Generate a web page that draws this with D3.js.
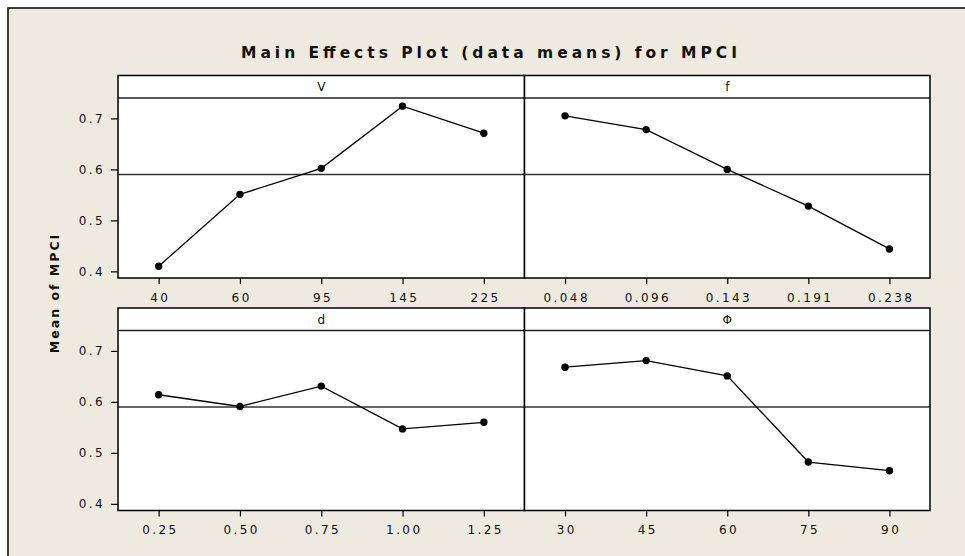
<!DOCTYPE html>
<html>
<head>
<meta charset="utf-8">
<script src="https://cdn.jsdelivr.net/npm/d3@7"></script>
<style>
  body { margin: 0; background: #fff; }
  svg text { font-family: "DejaVu Sans", Verdana, sans-serif; fill: #111; }
</style>
</head>
<body>
<div id="chart"></div>
<script>
var width = 965, height = 556;

// factor levels (tick labels) and mean of MPCI at each level
var levelsV = ["40", "60", "95", "145", "225"];
var meansV = [0.410, 0.551, 0.602, 0.724, 0.671];
var levelsF = ["0.048", "0.096", "0.143", "0.191", "0.238"];
var meansF = [0.705, 0.678, 0.600, 0.528, 0.444];
var levelsD = ["0.25", "0.50", "0.75", "1.00", "1.25"];
var meansD = [0.614, 0.591, 0.631, 0.547, 0.560];
var levelsPhi = ["30", "45", "60", "75", "90"];
var meansPhi = [0.668, 0.681, 0.651, 0.482, 0.465];

var grandMean = 0.590;
var yTicks = [0.4, 0.5, 0.6, 0.7];
var factorNames = ["V", "f", "d", "\u03A6"];

var panels = [
  {name: factorNames[0], levels: levelsV, means: meansV, row: 0, col: 0},
  {name: factorNames[1], levels: levelsF, means: meansF, row: 0, col: 1},
  {name: factorNames[2], levels: levelsD, means: meansD, row: 1, col: 0},
  {name: factorNames[3], levels: levelsPhi, means: meansPhi, row: 1, col: 1}
];

// layout
var colX = [118, 524.5, 930];
var rowTop = [75.5, 308];
var stripH = 22.5,
    plotH = 180;

var svg = d3.select("#chart").append("svg")
  .attr("width", width)
  .attr("height", height);

// beige frame
svg.append("rect")
  .attr("x", 8).attr("y", 8)
  .attr("width", 1000).attr("height", 600)
  .attr("fill", "#eeeae0")
  .attr("stroke", "#000")
  .attr("stroke-width", 1.5);

// title
svg.append("text")
  .attr("x", 489)
  .attr("y", 57.5)
  .attr("text-anchor", "middle")
  .attr("font-size", "15.5px")
  .attr("font-weight", "bold")
  .attr("textLength", 496)
  .attr("lengthAdjust", "spacing")
  .text("Main Effects Plot (data means) for MPCI");

// y axis title
svg.append("text")
  .attr("transform", "translate(59,293) rotate(-90)")
  .attr("text-anchor", "middle")
  .attr("font-size", "12.5px")
  .attr("font-weight", "bold")
  .attr("letter-spacing", "2px")
  .text("Mean of MPCI");

var y = d3.scaleLinear().domain([0.387, 0.74]).range([plotH, 0]);

panels.forEach(function(p) {
  var x0 = colX[p.col], x1 = colX[p.col + 1];
  var top = rowTop[p.row];
  var g = svg.append("g").attr("transform", "translate(" + x0 + "," + (top + stripH) + ")");
  var w = x1 - x0;

  var x = d3.scalePoint().domain(p.levels).range([0, w]).padding(0.5);

  // white plot area
  g.append("rect")
    .attr("x", 0).attr("y", -stripH)
    .attr("width", w).attr("height", plotH + stripH)
    .attr("fill", "#fff");

  // grand mean reference line
  g.append("line")
    .attr("x1", 0).attr("x2", w)
    .attr("y1", y(grandMean)).attr("y2", y(grandMean))
    .attr("stroke", "#333")
    .attr("stroke-width", 1.4);

  // x axis
  var xa = g.append("g")
    .attr("transform", "translate(0," + plotH + ")")
    .call(d3.axisBottom(x).tickSize(6).tickSizeOuter(0).tickPadding(9));
  xa.select(".domain").remove();
  xa.selectAll("line").attr("stroke", "#000").attr("stroke-width", 1.2);
  xa.selectAll("text")
    .attr("font-size", "12px")
    .attr("letter-spacing", "2.4px")
    .attr("dx", "1.2px")
    .style("font-family", "'DejaVu Sans', Verdana, sans-serif")
    .attr("fill", "#111");

  // y axis only on left column
  if (p.col === 0) {
    var ya = g.append("g")
      .call(d3.axisLeft(y).tickValues(yTicks).tickFormat(d3.format(".1f")).tickSize(7).tickSizeOuter(0).tickPadding(6));
    ya.select(".domain").remove();
    ya.selectAll("line").attr("stroke", "#000").attr("stroke-width", 1.2);
    ya.selectAll("text")
      .attr("font-size", "12px")
      .attr("letter-spacing", "2.4px")
      .style("font-family", "'DejaVu Sans', Verdana, sans-serif")
      .attr("fill", "#111");
  }

  // data line and points
  var pts = p.levels.map(function(l, i) { return [x(l), y(p.means[i])]; });
  g.append("path")
    .attr("d", d3.line()(pts))
    .attr("fill", "none")
    .attr("stroke", "#000")
    .attr("stroke-width", 1.3);
  g.selectAll("circle.pt")
    .data(pts)
    .enter()
    .append("circle")
    .attr("class", "pt")
    .attr("cx", function(d) { return d[0]; })
    .attr("cy", function(d) { return d[1]; })
    .attr("r", 3.7)
    .attr("fill", "#000");

  // strip
  g.append("line")
    .attr("x1", 0).attr("x2", w)
    .attr("y1", 0).attr("y2", 0)
    .attr("stroke", "#222")
    .attr("stroke-width", 1.5);
  g.append("text")
    .attr("x", w / 2)
    .attr("y", -stripH / 2 + 4.5)
    .attr("text-anchor", "middle")
    .attr("font-size", "12px")
    .text(p.name);

  // panel border
  g.append("rect")
    .attr("x", 0).attr("y", -stripH)
    .attr("width", w).attr("height", plotH + stripH)
    .attr("fill", "none")
    .attr("stroke", "#000")
    .attr("stroke-width", 1.5);
});
</script>
</body>
</html>
